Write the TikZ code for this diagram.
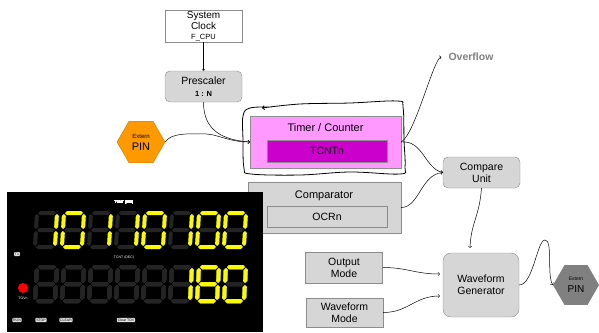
\documentclass[tikz,border=0pt]{standalone}
\usepackage{fontspec}
\setmainfont{Liberation Sans}
\usetikzlibrary{shapes.geometric}
\definecolor{boxgray}{RGB}{214,214,214}
\definecolor{edgegray}{RGB}{140,140,140}
\definecolor{tmrpink}{RGB}{255,153,255}
\definecolor{tcntpurple}{RGB}{204,0,204}
\definecolor{pinorange}{RGB}{255,153,0}
\definecolor{pingray}{RGB}{128,128,128}
\definecolor{ledon}{RGB}{250,250,0}
\definecolor{ledoff}{RGB}{36,36,36}
\definecolor{btngray}{RGB}{225,225,225}
\tikzset{
  blk/.style={draw=edgegray, fill=boxgray, minimum width=77pt, minimum height=31pt,
    align=center, inner sep=1pt, font=\fontsize{10.5}{12}\selectfont},
  rblk/.style={blk, rounded corners=5pt},
  conn/.style={->, >=to, line width=0.5pt},
  hexpin/.style={regular polygon, regular polygon sides=6, inner sep=0pt, align=center},
  ledbtn/.style={fill=btngray, rounded corners=0.8pt, inner sep=0.8pt,
    font=\fontsize{3.5}{4}\selectfont, text=black},
  ledlbl/.style={text=white, font=\fontsize{3.5}{4}\selectfont, inner sep=0pt}
}
% seven segment parts
\newcommand{\hseg}[2]{\fill (#1,#2) -- ++(2,-2) -- ++(14,0) -- ++(2,2) -- ++(-2,2) -- ++(-14,0) -- cycle;}
\newcommand{\vseg}[2]{\fill (#1,#2) -- ++(2,2) -- ++(0,11) -- ++(-2,2) -- ++(-2,-2) -- ++(0,-11) -- cycle;}
\newcommand{\segall}{\hseg{1}{0}\vseg{20}{1}\vseg{20}{18}\hseg{1}{34}\vseg{0}{18}\vseg{0}{1}\hseg{1}{17}}
\newcommand{\segzero}{\hseg{1}{0}\vseg{20}{1}\vseg{20}{18}\hseg{1}{34}\vseg{0}{18}\vseg{0}{1}}
\newcommand{\segone}{\vseg{20}{1}\vseg{20}{18}}
\newcommand{\segnone}{}
\newcommand{\ledigit}[3]{\begin{scope}[shift={(#1,#2)}, xslant=0.06]
  \begin{scope}[color=ledoff]\segall\end{scope}
  \begin{scope}[color=ledon]#3\end{scope}
\end{scope}}
\begin{document}
\begin{tikzpicture}[x=1pt, y=-1pt]
\useasboundingbox (0,0) rectangle (599,332);
\node[blk, fill=white, minimum height=32pt, font=\fontsize{10}{11}\selectfont] (clk) at (203.5,26)
  {System\\Clock\\[-1pt]{\fontsize{7.5}{8}\selectfont F\_CPU}};
\node[rblk] (pre) at (203.5,86.5) {Prescaler\\{\fontsize{7.5}{8}\selectfont\bfseries 1 : N}};
\node[hexpin, fill=pinorange, draw=pinorange!80!black, minimum size=48pt] (pin) at (141,142)
  {{\fontsize{6}{7}\selectfont Extern}\\{\fontsize{11}{12}\selectfont PIN}};
\node[blk, fill=tmrpink, minimum width=151pt, minimum height=52pt] (tmr) at (325.5,142) {};
\node[font=\fontsize{11}{12}\selectfont] (tmrtxt) at (325.5,128) {Timer / Counter};
\node[blk, fill=tcntpurple, minimum width=120pt, minimum height=22pt] (tcnt) at (327,151) {TCNTn};
\node[blk, minimum width=153pt, minimum height=51pt] (cmpr) at (324.5,207.5) {};
\node[font=\fontsize{11}{12}\selectfont] (cmprtxt) at (324,195.5) {Comparator};
\node[blk, minimum width=120pt, minimum height=21pt] (ocr) at (327,216.5) {OCRn};
\node[rblk] (cmp) at (481.5,172.5) {Compare\\Unit};
\node[font=\fontsize{10.5}{12}\selectfont\bfseries, text=pingray, inner sep=2pt] (ovf) at (471,57) {Overflow};
\node[blk] (om) at (344,267.5) {Output\\Mode};
\node[blk, minimum height=29pt] (wm) at (344.5,312.5) {Waveform\\Mode};
\node[rblk, rounded corners=8pt, minimum width=76pt, minimum height=64pt] (wg) at (481,285) {Waveform\\Generator};
\node[hexpin, fill=pingray, minimum size=46pt] (pin2) at (576,285)
  {{\fontsize{5}{6}\selectfont Extern}\\{\fontsize{10}{11}\selectfont PIN}};

% connectors
\draw[conn] (clk) -- (pre);
\draw[conn] (pre.south) .. controls +(0,30) and +(-25,-2) .. (tmr.west);
\draw[conn] (pin.east) .. controls +(6,-10) and +(-15,0) .. (207,134) .. controls +(12,1) and +(-20,0) .. (tmr.west);
\draw[conn] (tmr.east) .. controls +(14,-8) and +(-8,2) .. ([xshift=-5pt]ovf.west);
\draw[conn] (tmr.east) .. controls +(22,-2) and +(-18,-4) .. (cmp.west);
\draw[conn] (cmpr.east) .. controls +(18,0) and +(-22,2) .. (cmp.west);
\draw[conn] (cmp.south) .. controls +(-2,28) and +(1,-25) .. ([shift={(-11,-5)}]wg.north);
\draw[conn] (om.east) .. controls +(25,0) and +(-25,0) .. ([shift={(-3,-11)}]wg.west);
\draw[conn] (wm.east) .. controls +(25,0) and +(-25,0) .. ([shift={(-3,11)}]wg.west);
\draw[conn] (wg.east) .. controls +(14,0) and +(-8,0) .. (545,240) .. controls +(8,0) and +(-6,-10) .. (pin2.west);

% hand drawn loop round the timer
\draw[->, >=to, line width=0.8pt] plot[smooth, tension=0.6] coordinates {(272,107) (250,108) (243,116) (243,140)
  (244,168) (251,174) (300,175) (350,172) (400,174) (405,167) (404,140) (403,107) (397,101) (350,103) (300,104) (262,108)};

% display panel
\fill[black] (7,192) rectangle (263,332);
\foreach \d [count=\i from 0] in {\segone,\segzero,\segone,\segone,\segzero,\segone,\segzero,\segzero}
  \ledigit{37+27*\i}{213}{\d}
\foreach \d [count=\i from 0] in {\segnone,\segnone,\segnone,\segnone,\segnone,\segone,\segall,\segzero}
  \ledigit{37+27*\i}{267}{\d}
\node[ledlbl] (binlbl) at (124,203) {TCNT (BIN)};
\node[ledlbl] (declbl) at (124,258) {TCNT (DEC)};
\node[ledbtn] (tone) at (17,254) {T1};
\node[circle, fill=red, inner sep=0pt, minimum size=10pt] (tov) at (23,288) {};
\node[ledlbl] (tovlbl) at (23,298) {TOVn};
\node[ledbtn] (run) at (17,320) {RUN};
\node[ledbtn] (stop) at (41,320) {STOP};
\node[ledbtn] (clr) at (66,320) {CLEAR};
\node[ledbtn] (clrtov) at (126,320) {Clear TOV};
\end{tikzpicture}
\end{document}
